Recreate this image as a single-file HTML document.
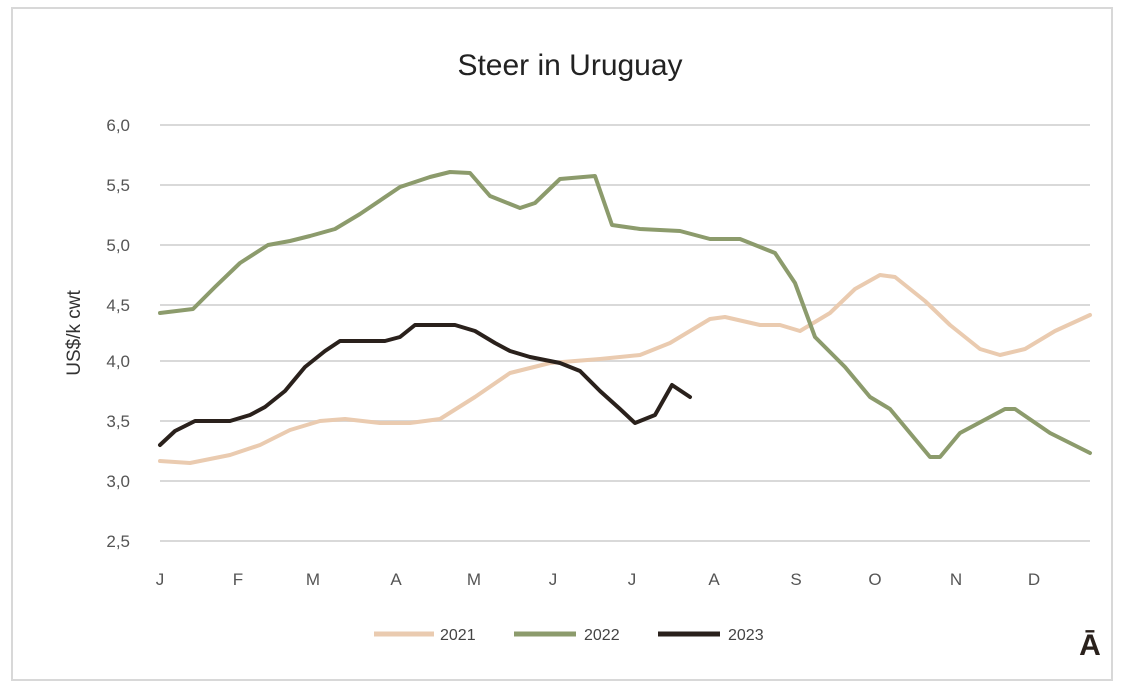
<!DOCTYPE html>
<html><head><meta charset="utf-8"><style>
html,body{margin:0;padding:0;background:#fff;}
svg{display:block;font-family:"Liberation Sans",sans-serif;}
</style></head><body>
<svg width="1142" height="696" viewBox="0 0 1142 696">
<rect x="12" y="8" width="1100" height="672" fill="#fff" stroke="#d8d8d8" stroke-width="2"/>
<text x="570" y="75" font-size="30" text-anchor="middle" fill="#222">Steer in Uruguay</text>
<g stroke="#d9d9d9" stroke-width="2">
<line x1="160" y1="125" x2="1090" y2="125"/><line x1="160" y1="185" x2="1090" y2="185"/>
<line x1="160" y1="245" x2="1090" y2="245"/><line x1="160" y1="305" x2="1090" y2="305"/>
<line x1="160" y1="361" x2="1090" y2="361"/><line x1="160" y1="421" x2="1090" y2="421"/>
<line x1="160" y1="481" x2="1090" y2="481"/><line x1="160" y1="541" x2="1090" y2="541"/>
</g>
<g font-size="17" fill="#555" text-anchor="end">
<text x="130" y="131">6,0</text><text x="130" y="191">5,5</text><text x="130" y="251">5,0</text>
<text x="130" y="311">4,5</text><text x="130" y="367">4,0</text><text x="130" y="427">3,5</text>
<text x="130" y="487">3,0</text><text x="130" y="547">2,5</text>
</g>
<text transform="translate(80,333) rotate(-90)" font-size="19" fill="#333" text-anchor="middle">US$/k cwt</text>
<g font-size="17" fill="#555" text-anchor="middle">
<text x="160" y="585">J</text><text x="238" y="585">F</text><text x="313" y="585">M</text>
<text x="396" y="585">A</text><text x="474" y="585">M</text><text x="553" y="585">J</text>
<text x="632" y="585">J</text><text x="714" y="585">A</text><text x="796" y="585">S</text>
<text x="875" y="585">O</text><text x="956" y="585">N</text><text x="1034" y="585">D</text>
</g>
<g fill="none" stroke-width="4" stroke-linejoin="round" stroke-linecap="round">
<polyline stroke="#eacbb0" points="160,461 190,463 230,455 260,445 290,430 320,421 345,419 380,423 410,423 440,419 475,397 510,373 550,363 600,359 640,355 670,343 710,319 725,317 760,325 780,325 800,331 830,313 855,289 880,275 895,277 925,301 950,325 980,349 1000,355 1025,349 1055,331 1090,315"/>
<polyline stroke="#8c9b6c" points="160,313 193,309 215,287 240,263 268,245 290,241 310,236 335,229 360,214 400,187 430,177 450,172 470,173 490,196 520,208 535,203 560,179 595,176 612,225 640,229 680,231 710,239 740,239 775,253 795,283 815,337 845,367 870,397 890,409 915,439 930,457 940,457 960,433 1005,409 1015,409 1050,433 1090,453"/>
<polyline stroke="#2a211c" points="160,445 175,431 195,421 230,421 250,415 265,407 285,391 305,367 325,351 340,341 385,341 400,337 415,325 455,325 475,331 495,343 510,351 530,357 560,363 580,371 600,391 620,409 635,423 655,415 672,385 690,397"/>
</g>
<g font-size="16" fill="#444">
<line x1="374" y1="634" x2="434" y2="634" stroke="#eacbb0" stroke-width="5"/><text x="440" y="640">2021</text>
<line x1="514" y1="634" x2="576" y2="634" stroke="#8c9b6c" stroke-width="5"/><text x="584" y="640">2022</text>
<line x1="658" y1="634" x2="720" y2="634" stroke="#2a211c" stroke-width="5"/><text x="728" y="640">2023</text>
</g>
<text x="1090" y="655" font-size="30" font-weight="bold" fill="#2a211c" text-anchor="middle">Ā</text>
</svg>
</body></html>
